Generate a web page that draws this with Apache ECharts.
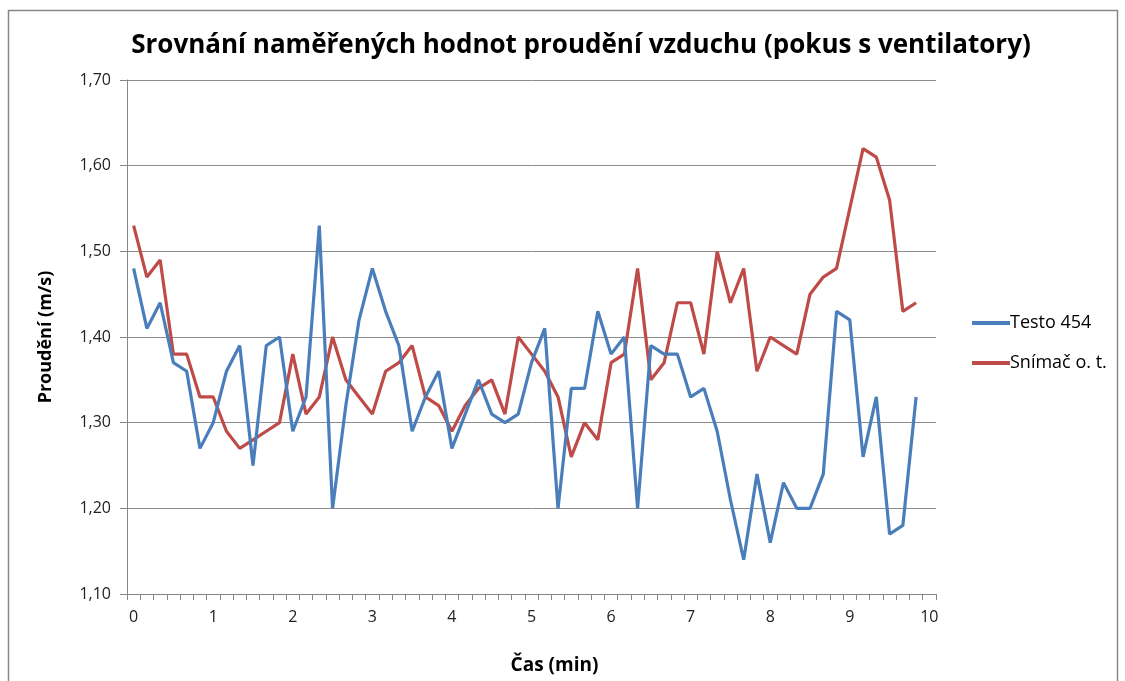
<!DOCTYPE html>
<html>
<head>
<meta charset="utf-8">
<script src="https://cdn.jsdelivr.net/npm/echarts@6/dist/echarts.min.js"></script>
<style>
  html, body { margin: 0; padding: 0; background: #fff; }
  #main { width: 1125px; height: 681px; }
</style>
</head>
<body>
<div id="main"></div>
<script>
// popisky osy x (minuty), mezi nimi po 10 s
var xTicks = ['0', '1', '2', '3', '4', '5', '6', '7', '8', '9', '10'];

// Testo 454
var testo = [
  1.48, 1.41, 1.44, 1.37, 1.36, 1.27, 1.30, 1.36, 1.39, 1.25,
  1.39, 1.40, 1.29, 1.33, 1.53, 1.20, 1.32, 1.42, 1.48, 1.43,
  1.39, 1.29, 1.33, 1.36, 1.27, 1.31, 1.35, 1.31, 1.30, 1.31,
  1.37, 1.41, 1.20, 1.34, 1.34, 1.43, 1.38, 1.40, 1.20, 1.39,
  1.38, 1.38, 1.33, 1.34, 1.29, 1.21, 1.14, 1.24, 1.16, 1.23,
  1.20, 1.20, 1.24, 1.43, 1.42, 1.26, 1.33, 1.17, 1.18, 1.33
];

// Snímač o. t.
var snimac = [
  1.53, 1.47, 1.49, 1.38, 1.38, 1.33, 1.33, 1.29, 1.27, 1.28,
  1.29, 1.30, 1.38, 1.31, 1.33, 1.40, 1.35, 1.33, 1.31, 1.36,
  1.37, 1.39, 1.33, 1.32, 1.29, 1.32, 1.34, 1.35, 1.31, 1.40,
  1.38, 1.36, 1.33, 1.26, 1.30, 1.28, 1.37, 1.38, 1.48, 1.35,
  1.37, 1.44, 1.44, 1.38, 1.50, 1.44, 1.48, 1.36, 1.40, 1.39,
  1.38, 1.45, 1.47, 1.48, 1.55, 1.62, 1.61, 1.56, 1.43, 1.44
];

// kategorie po 10 s, popisek jen u celych minut
var categories = [];
xTicks.forEach(function (t, k) {
  categories.push(t);
  if (k < xTicks.length - 1) {
    for (var j = 1; j < 6; j++) categories.push(t + '.' + j);
  }
});

var myChart = echarts.init(document.getElementById('main'));

var font = '"Open Sans", "Noto Sans", sans-serif';

var option = {
  animation: false,
  textStyle: { fontFamily: font },
  title: {
    text: 'Srovnání naměřených hodnot proudění vzduchu (pokus s ventilatory)',
    left: 576,
    textAlign: 'center',
    top: 28,
    textStyle: { fontSize: 26, fontWeight: 'bold', color: '#000', fontFamily: font }
  },
  legend: {
    orient: 'vertical',
    left: 967,
    top: 309,
    itemWidth: 38,
    itemHeight: 4,
    itemGap: 22,
    icon: 'rect',
    textStyle: { fontSize: 18, color: '#000', padding: [0, 0, 0, -5] },
    data: ['Testo 454', 'Snímač o. t.']
  },
  grid: {
    left: 127,
    right: 189,
    top: 80,
    bottom: 87,
    containLabel: false
  },
  xAxis: {
    type: 'category',
    data: categories,
    boundaryGap: true,
    name: 'Čas (min)',
    nameLocation: 'middle',
    nameGap: 62,
    nameTextStyle: { fontSize: 19, fontWeight: 'bold', color: '#000', padding: [0, 0, 0, 46] },
    axisLine: { lineStyle: { color: '#868686', width: 1 } },
    axisTick: { show: true, interval: 0, length: 6, lineStyle: { color: '#868686' } },
    axisLabel: {
      interval: 5,
      fontSize: 16,
      color: '#222',
      margin: 15
    },
    splitLine: { show: false }
  },
  yAxis: {
    type: 'value',
    min: 1.1,
    max: 1.7,
    interval: 0.1,
    name: 'Proudění (m/s)',
    nameLocation: 'middle',
    nameRotate: 90,
    nameGap: 72,
    nameTextStyle: { fontSize: 18, fontWeight: 'bold', color: '#000' },
    axisLine: { show: true, lineStyle: { color: '#868686', width: 1 } },
    axisTick: { show: true, length: 7, lineStyle: { color: '#868686' } },
    axisLabel: {
      fontSize: 16,
      color: '#222',
      margin: 16,
      formatter: function (v) { return v.toFixed(2).replace('.', ','); }
    },
    splitLine: { show: true, lineStyle: { color: '#8c8c8c', width: 1 } }
  },
  graphic: [
    {
      type: 'rect',
      shape: { x: 8.5, y: 10.5, width: 1109, height: 690 },
      style: { fill: 'none', stroke: '#888', lineWidth: 1.5 },
      silent: true
    }
  ],
  series: [
    {
      name: 'Testo 454',
      type: 'line',
      data: testo,
      showSymbol: false,
      symbol: 'none',
      lineStyle: { color: '#4a7ebb', width: 3.2 },
      itemStyle: { color: '#4a7ebb' },
      z: 3
    },
    {
      name: 'Snímač o. t.',
      type: 'line',
      data: snimac,
      showSymbol: false,
      symbol: 'none',
      lineStyle: { color: '#be4b48', width: 3.2 },
      itemStyle: { color: '#be4b48' },
      z: 2
    }
  ]
};

myChart.setOption(option);
</script>
</body>
</html>
